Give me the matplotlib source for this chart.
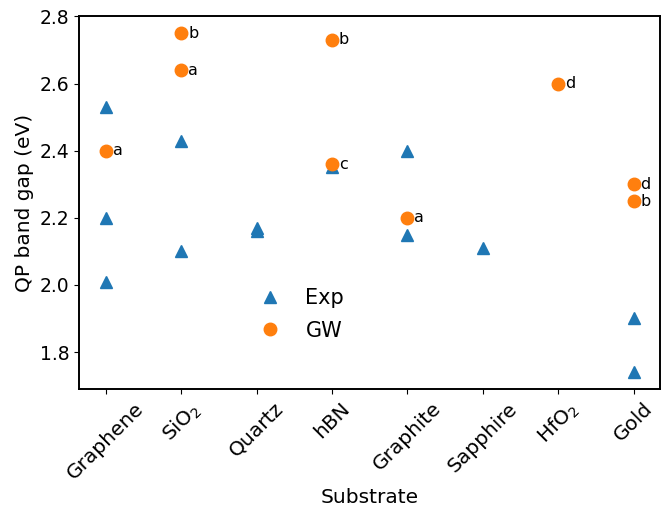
import numpy as np
import matplotlib.pyplot as plt

substrates = ['Graphene', 'SiO$_2$', 'Quartz', 'hBN', 'Graphite', 'Sapphire', 'HfO$_2$', 'Gold']

# experimental gaps (substrate index, value)
exp_idx = [0, 0, 0, 1, 1, 2, 2, 3, 4, 4, 5, 7, 7]
exp_val = [2.53, 2.20, 2.01, 2.43, 2.10, 2.17, 2.16, 2.35, 2.40, 2.15, 2.11, 1.90, 1.74]

# GW gaps with reference letters
gw_idx = [0, 1, 1, 3, 3, 4, 6, 7, 7]
gw_val = [2.40, 2.75, 2.64, 2.73, 2.36, 2.20, 2.60, 2.30, 2.25]
gw_ref = ['a', 'b', 'a', 'b', 'c', 'a', 'd', 'd', 'b']

fig, ax = plt.subplots(figsize=(6.62, 5.08), dpi=100)
ax.plot(exp_idx, exp_val, '^', color='#1f77b4', ms=9, ls='none', label='Exp')
ax.plot(gw_idx, gw_val, 'o', color='#ff7f0e', ms=9, ls='none', label='GW')
for i, v, r in zip(gw_idx, gw_val, gw_ref):
    ax.annotate(r, (i, v), xytext=(5, 0), textcoords='offset points',
                va='center', ha='left', fontsize=11.5)

ax.set_xticks(range(len(substrates)))
ax.set_xticklabels(substrates, rotation=45, ha='center', fontsize=14.5)
ax.set_yticks([1.8, 2.0, 2.2, 2.4, 2.6, 2.8])
ax.tick_params(axis='y', labelsize=13.5)
ax.set_xlabel('Substrate', fontsize=14.5)
ax.set_ylabel('QP band gap (eV)', fontsize=14.5)
for s in ax.spines.values():
    s.set_linewidth(1.4)
ax.legend(loc='lower left', bbox_to_anchor=(0.26, 0.08), frameon=False,
          fontsize=15, handletextpad=0.7, labelspacing=0.6)

plt.subplots_adjust(left=0.12, right=0.997, top=0.968, bottom=0.234)
plt.savefig('out.png')
